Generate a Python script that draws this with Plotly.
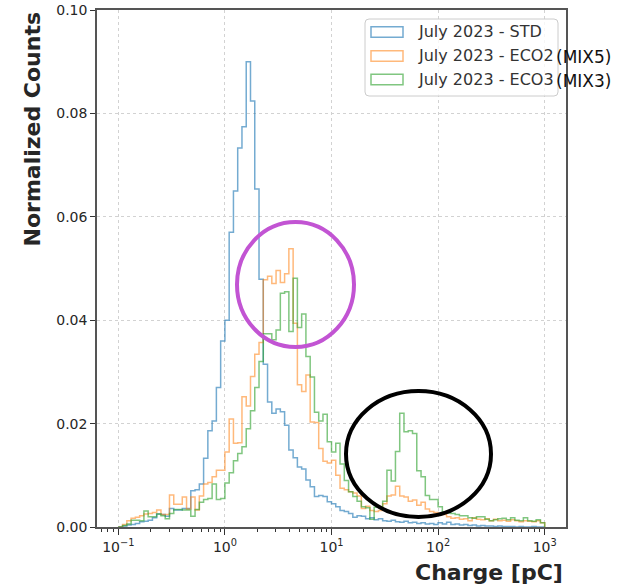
import numpy as np
import plotly.graph_objects as go

# ---- data ----
# 100 log-spaced bins from 0.1 pC to 1000 pC
BIN_LOG_MIN = -1
BIN_LOG_MAX = 3
N_BINS = 100

STD = [
    0.0000, 0.0002, 0.0004, 0.0005, 0.0007, 0.0010, 0.0011, 0.0013, 0.0018, 0.0025,
    0.0024, 0.0021, 0.0036, 0.0033, 0.0033, 0.0036, 0.0036, 0.0070, 0.0072, 0.0083,
    0.0133, 0.0186, 0.0205, 0.0270, 0.0360, 0.0400, 0.0570, 0.0650, 0.0733, 0.0774,
    0.0900, 0.0824, 0.0654, 0.0479, 0.0315, 0.0242, 0.0220, 0.0228, 0.0223, 0.0197,
    0.0149, 0.0134, 0.0116, 0.0112, 0.0091, 0.0078, 0.0059, 0.0061, 0.0059, 0.0049,
    0.0045, 0.0039, 0.0032, 0.0030, 0.0026, 0.0019, 0.0022, 0.0021, 0.0016, 0.0018,
    0.0014, 0.0016, 0.0012, 0.0011, 0.0013, 0.0010, 0.0009, 0.0011, 0.0008, 0.0009,
    0.0007, 0.0008, 0.0006, 0.0007, 0.0005, 0.0008, 0.0006, 0.0009, 0.0005, 0.0006,
    0.0004, 0.0005, 0.0003, 0.0004, 0.0002, 0.0003, 0.0002, 0.0002, 0.0001, 0.0002,
    0.0001, 0.0001, 0.0001, 0.0000, 0.0001, 0.0000, 0.0000, 0.0001, 0.0000, 0.0000,
]

ECO2 = [
    0.0000, 0.0005, 0.0012, 0.0017, 0.0019, 0.0022, 0.0025, 0.0026, 0.0028, 0.0033,
    0.0024, 0.0024, 0.0062, 0.0044, 0.0044, 0.0058, 0.0035, 0.0058, 0.0033, 0.0060,
    0.0083, 0.0086, 0.0097, 0.0110, 0.0110, 0.0145, 0.0209, 0.0162, 0.0163, 0.0252,
    0.0234, 0.0291, 0.0334, 0.0357, 0.0478, 0.0485, 0.0471, 0.0496, 0.0473, 0.0490,
    0.0538, 0.0394, 0.0275, 0.0262, 0.0294, 0.0203, 0.0202, 0.0152, 0.0127, 0.0124,
    0.0129, 0.0100, 0.0075, 0.0072, 0.0068, 0.0066, 0.0060, 0.0036, 0.0040, 0.0032,
    0.0030, 0.0032, 0.0045, 0.0060, 0.0062, 0.0079, 0.0060, 0.0058, 0.0050, 0.0052,
    0.0042, 0.0048, 0.0035, 0.0030, 0.0028, 0.0026, 0.0024, 0.0020, 0.0017, 0.0018,
    0.0015, 0.0016, 0.0012, 0.0018, 0.0015, 0.0014, 0.0016, 0.0012, 0.0015, 0.0012,
    0.0013, 0.0011, 0.0014, 0.0012, 0.0010, 0.0012, 0.0011, 0.0010, 0.0012, 0.0008,
]

ECO3 = [
    0.0000, 0.0003, 0.0006, 0.0013, 0.0013, 0.0012, 0.0031, 0.0020, 0.0020, 0.0025,
    0.0022, 0.0016, 0.0026, 0.0034, 0.0034, 0.0033, 0.0033, 0.0021, 0.0034, 0.0048,
    0.0053, 0.0055, 0.0083, 0.0053, 0.0055, 0.0085, 0.0105, 0.0128, 0.0142, 0.0155,
    0.0190, 0.0225, 0.0270, 0.0320, 0.0374, 0.0374, 0.0362, 0.0381, 0.0452, 0.0455,
    0.0378, 0.0481, 0.0386, 0.0412, 0.0330, 0.0290, 0.0222, 0.0205, 0.0218, 0.0165,
    0.0145, 0.0162, 0.0122, 0.0090, 0.0068, 0.0059, 0.0050, 0.0039, 0.0037, 0.0015,
    0.0038, 0.0038, 0.0050, 0.0110, 0.0089, 0.0146, 0.0220, 0.0184, 0.0186, 0.0181,
    0.0109, 0.0097, 0.0061, 0.0053, 0.0053, 0.0039, 0.0029, 0.0027, 0.0026, 0.0024,
    0.0022, 0.0022, 0.0018, 0.0017, 0.0020, 0.0020, 0.0015, 0.0012, 0.0014, 0.0016,
    0.0017, 0.0014, 0.0018, 0.0013, 0.0012, 0.0018, 0.0012, 0.0011, 0.0014, 0.0008,
]

SERIES_NAMES = ["July 2023 - STD", "July 2023 - ECO2", "July 2023 - ECO3"]
SERIES_SUFFIX = ["", "(MIX5)", "(MIX3)"]
Y_TICKS = [0.00, 0.02, 0.04, 0.06, 0.08, 0.10]
X_TICKS = [0.1, 1, 10, 100, 1000]
X_TICKTEXT = ["10<sup>\u22121</sup>", "10<sup>0</sup>", "10<sup>1</sup>", "10<sup>2</sup>", "10<sup>3</sup>"]

COLORS = ["rgba(31,119,180,0.62)", "rgba(255,127,14,0.55)", "rgba(44,160,44,0.6)"]

# ---- figure geometry (pixels) ----
W, H = 626, 585
L, R, T, B = 97, 566, 10, 527


def px(x):
    return (x - L) / (R - L)


def py(y):
    return (B - y) / (B - T)


edges = np.logspace(BIN_LOG_MIN, BIN_LOG_MAX, N_BINS + 1)


def stairs(values):
    xs = [edges[0]] + list(edges[:-1]) + [edges[-1], edges[-1]]
    ys = [0.0] + list(values) + [values[-1], 0.0]
    return xs, ys


fig = go.Figure()
for vals, name, col in zip([STD, ECO2, ECO3], SERIES_NAMES, COLORS):
    xs, ys = stairs(vals)
    fig.add_trace(go.Scatter(x=xs, y=ys, mode="lines", name=name,
                             line=dict(color=col, width=1.5, shape="hv"),
                             showlegend=False, hoverinfo="skip"))

minor_vals = [m * 10.0 ** k for k in range(-2, 4) for m in range(2, 10)
              if 0.063 < m * 10.0 ** k < 1580]

fig.update_layout(
    width=W, height=H,
    margin=dict(l=L, r=W - R, t=T, b=H - B),
    paper_bgcolor="white", plot_bgcolor="white",
    font=dict(family="DejaVu Sans", size=14, color="#262626"),
    showlegend=False,
)
fig.update_xaxes(type="log", range=[-1.2, 3.2], tickmode="array", tickvals=X_TICKS, ticktext=X_TICKTEXT,
                 showgrid=True, gridcolor="#d2d2d2", griddash="dot", gridwidth=1,
                 ticks="outside", ticklen=6, tickwidth=1, tickcolor="#333",
                 minor=dict(tickmode="array", tickvals=minor_vals, ticks="outside", ticklen=3.5,
                            tickwidth=1, tickcolor="#333", showgrid=False),
                 showline=True, linecolor="#555", linewidth=1.5, mirror=True, zeroline=False,
                 automargin=False, tickfont=dict(size=14, color="#262626"))
fig.update_yaxes(range=[0, 0.1], tickmode="array", tickvals=Y_TICKS, tickformat=".2f",
                 showgrid=True, gridcolor="#d2d2d2", griddash="dot", gridwidth=1,
                 ticks="outside", ticklen=5, tickwidth=1, tickcolor="#333",
                 showline=True, linecolor="#555", linewidth=1.5, mirror=True, zeroline=False,
                 automargin=False, tickfont=dict(size=14, color="#262626"))

# axis titles
fig.add_annotation(text="<b>Charge [pC]</b>", xref="paper", yref="paper", x=px(565), y=py(572),
                   xanchor="right", yanchor="middle", showarrow=False,
                   font=dict(family="DejaVu Sans", size=22, color="#262626"))
fig.add_annotation(text="<b>Normalized Counts</b>", xref="paper", yref="paper", x=px(32), y=py(10),
                   xanchor="center", yanchor="top", textangle=-90, showarrow=False,
                   font=dict(family="DejaVu Sans", size=22, color="#262626"))

# ---- legend drawn like matplotlib's (rounded frame, outlined patches) ----
bx0, bx1, by0, by1, rad = 365, 558, 19, 96, 4
path = (f"M {px(bx0 + rad)},{py(by0)} L {px(bx1 - rad)},{py(by0)} "
        f"Q {px(bx1)},{py(by0)} {px(bx1)},{py(by0 + rad)} L {px(bx1)},{py(by1 - rad)} "
        f"Q {px(bx1)},{py(by1)} {px(bx1 - rad)},{py(by1)} L {px(bx0 + rad)},{py(by1)} "
        f"Q {px(bx0)},{py(by1)} {px(bx0)},{py(by1 - rad)} L {px(bx0)},{py(by0 + rad)} "
        f"Q {px(bx0)},{py(by0)} {px(bx0 + rad)},{py(by0)} Z")
fig.add_shape(type="path", path=path, xref="paper", yref="paper",
              fillcolor="rgba(255,255,255,0.8)", line=dict(color="#cccccc", width=1))

row_centers = [32, 56, 79.5]
for name, suffix, col, yc in zip(SERIES_NAMES, SERIES_SUFFIX, COLORS, row_centers):
    fig.add_shape(type="rect", xref="paper", yref="paper",
                  x0=px(371), x1=px(403), y0=py(yc + 5.3), y1=py(yc - 5.3),
                  line=dict(color=col, width=1.5), fillcolor="rgba(0,0,0,0)")
    fig.add_annotation(text=name, xref="paper", yref="paper", x=px(416), y=py(yc),
                       xanchor="left", yanchor="middle", showarrow=False,
                       font=dict(family="DejaVu Sans", size=16, color="#333333"))
    if suffix:
        fig.add_annotation(text=suffix, xref="paper", yref="paper", x=px(554), y=py(yc + 1),
                           xanchor="left", yanchor="middle", showarrow=False,
                           font=dict(family="DejaVu Sans", size=17, color="#111111"))

# highlight ellipses
fig.add_shape(type="circle", xref="paper", yref="paper", x0=px(237), x1=px(354), y0=py(347), y1=py(222),
              line=dict(color="#c254d3", width=4))
fig.add_shape(type="circle", xref="paper", yref="paper", x0=px(346), x1=px(491), y0=py(517), y1=py(391),
              line=dict(color="#000000", width=4))

fig.write_html("out.html")
